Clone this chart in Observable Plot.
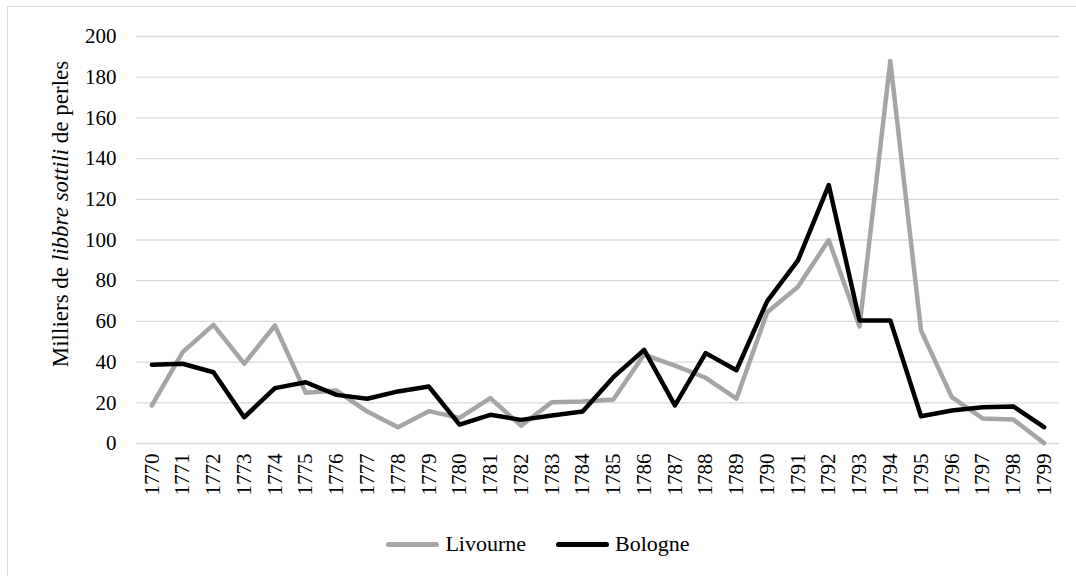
<!DOCTYPE html>
<html>
<head>
<meta charset="utf-8">
<script src="https://cdn.jsdelivr.net/npm/d3@7"></script>
<script src="https://cdn.jsdelivr.net/npm/@observablehq/plot@0.6"></script>
<style>
  html, body { margin: 0; padding: 0; background: #fff; overflow: hidden; width: 1076px; height: 576px; }
  #frame { position: absolute; left: 7px; top: 6px; width: 1200px; height: 700px; border: 1px solid #d9d9d9; box-sizing: border-box; }
  #chart { position: absolute; left: 0; top: 0; }
  #legend { position: absolute; left: 0; top: 530px; width: 1076px; height: 28px; display: flex; justify-content: center; align-items: center; font-family: "Liberation Serif", "Times New Roman", "DejaVu Serif", serif; font-size: 22px; color: #000; }
  .item { display: flex; align-items: center; margin: 0 15px; }
  .swatch { width: 53px; height: 5px; border-radius: 3px; margin-right: 6px; }
</style>
</head>
<body>
<div id="frame"></div>
<div id="chart"></div>
<div id="legend"></div>
<script>
const FONT = '"Liberation Serif", "Times New Roman", "DejaVu Serif", serif';
const years = [1770,1771,1772,1773,1774,1775,1776,1777,1778,1779,1780,1781,1782,1783,1784,1785,1786,1787,1788,1789,1790,1791,1792,1793,1794,1795,1796,1797,1798,1799];
const livourne = [18.7,44.9,58.3,39.2,58,24.9,26,15.7,8,15.9,12.6,22.3,8.8,20.3,20.6,21.6,43.7,38.3,32.3,22,64.5,77,100,57.5,188,55.5,22.8,12.3,11.8,0.2];
const bologne = [38.7,39.2,35,12.9,27.2,30.1,23.9,22,25.6,28,9.3,14.1,11.6,13.8,15.7,32.6,46,18.7,44.4,36,70,90,127,60.5,60.5,13.4,16.2,17.8,18.2,8];
const yTicks = [0,20,40,60,80,100,120,140,160,180,200];
const seriesNames = ["Livourne","Bologne"];
const seriesColors = ["#a5a5a5","#000000"];

const rows = [];
years.forEach((y,i) => {
  rows.push({year: y, value: livourne[i], series: seriesNames[0]});
});
years.forEach((y,i) => {
  rows.push({year: y, value: bologne[i], series: seriesNames[1]});
});

const chart = Plot.plot({
  width: 1076,
  height: 515,
  marginLeft: 136,
  marginRight: 17,
  marginTop: 36,
  marginBottom: 72,
  style: {fontFamily: FONT, fontSize: "21px", color: "#000", background: "transparent"},
  x: {domain: [years[0] - 0.5, years[years.length - 1] + 0.5], ticks: years, label: null, tickRotate: -90, tickSize: 0, tickPadding: 10, tickFormat: d => String(d)},
  y: {domain: [0,200], ticks: yTicks, label: null, tickSize: 0, tickPadding: 20},
  color: {domain: seriesNames, range: seriesColors},
  marks: [
    Plot.gridY(yTicks, {stroke: "#d9d9d9", strokeOpacity: 1, strokeWidth: 1.3}),
    Plot.line(rows, {x: "year", y: "value", z: "series", stroke: "series", strokeWidth: 4.5, strokeLinejoin: "round", strokeLinecap: "round"})
  ]
});
document.getElementById("chart").appendChild(chart);

const svg = d3.select(chart);
const lab = svg.append("text")
  .attr("transform", "translate(68,214) rotate(-90)")
  .attr("text-anchor", "middle")
  .attr("font-family", FONT)
  .attr("font-size", 23)
  .attr("fill", "#000");
lab.append("tspan").text("Milliers de ");
lab.append("tspan").attr("font-style", "italic").text("libbre sottili");
lab.append("tspan").text(" de perles");

const legend = d3.select("#legend");
seriesNames.forEach((n,i) => {
  const it = legend.append("div").attr("class","item");
  it.append("div").attr("class","swatch").style("background", seriesColors[i]);
  it.append("span").text(n);
});
</script>
</body>
</html>
